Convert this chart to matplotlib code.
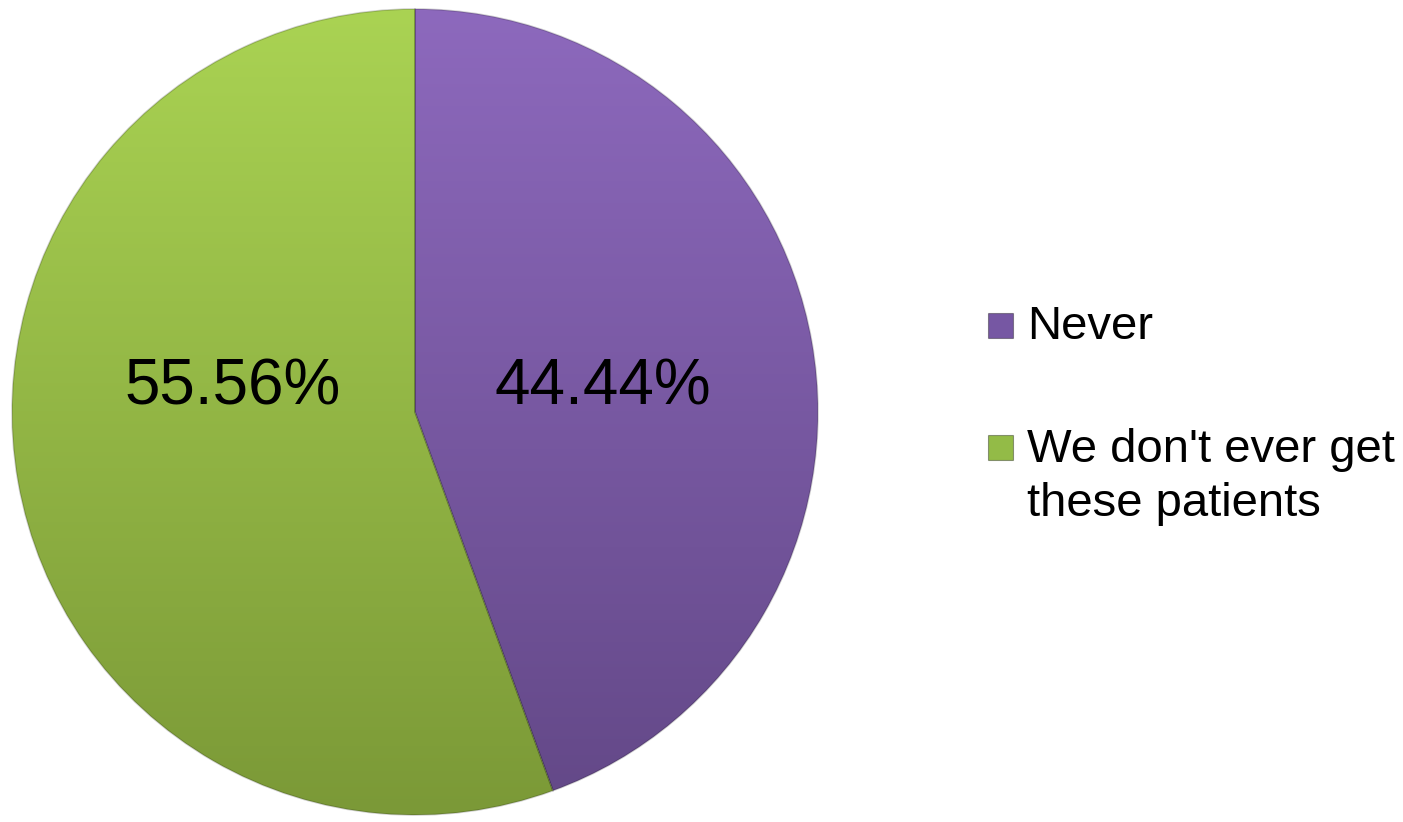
import numpy as np
import matplotlib
matplotlib.use("Agg")
import matplotlib.pyplot as plt
from matplotlib.colors import LinearSegmentedColormap
from matplotlib.patches import Rectangle

# Data
labels = ["Never", "We don't ever get\nthese patients"]
values = [44.44, 55.56]
pct_labels = ["44.44%", "55.56%"]

# colours (top -> bottom of the gradient)
top_colors = ["#8D69BD", "#AAD353"]
bottom_colors = ["#634887", "#7B9937"]
key_colors = ["#7657A3", "#93BB47"]

plt.rcParams['font.family'] = ['Liberation Sans', 'DejaVu Sans']

fig = plt.figure(figsize=(14.03, 8.22), dpi=100)
W, H = 1403, 822

# pie centre (415, 412) px, radius 403 px
cx, cy, r = 415, 412, 403
ax = fig.add_axes([(cx - r) / W, (H - cy - r) / H, 2 * r / W, 2 * r / H])

wedges, _ = ax.pie(values, startangle=90, counterclock=False, radius=1,
                   wedgeprops=dict(facecolor='none', edgecolor='none'))

grad = np.linspace(1, 0, 256).reshape(-1, 1)
for w, c_top, c_bot in zip(wedges, top_colors, bottom_colors):
    cmap = LinearSegmentedColormap.from_list('g', [c_bot, c_top])
    im = ax.imshow(grad, cmap=cmap, extent=(-1, 1, -1, 1), origin='upper',
                   aspect='auto', zorder=1, vmin=0, vmax=1)
    im.set_clip_path(w)
    w.set_edgecolor((0, 0, 0, 0.18))
    w.set_linewidth(1.2)
    w.set_zorder(2)

# percentage labels
pct_pos = [(0.467, 0.06), (-0.452, 0.06)]
for txt, (x, y) in zip(pct_labels, pct_pos):
    ax.text(x, y, txt, ha='center', va='center', fontsize=46, color='black', zorder=3)

ax.set_xlim(-1, 1)
ax.set_ylim(-1, 1)
ax.axis('off')

# legend (drawn by hand)
key_boxes = [(988, 313), (988, 435)]
text_tops = [307, 430]
for lab, col, (kx, ky), ty in zip(labels, key_colors, key_boxes, text_tops):
    fig.patches.append(Rectangle((kx / W, 1 - (ky + 25) / H), 25 / W, 25 / H,
                                 transform=fig.transFigure, facecolor=col,
                                 edgecolor=(0, 0, 0, 0.35), linewidth=0.8))
    fig.text(1027 / W, 1 - (ty - 2) / H, lab, ha='left', va='top',
             fontsize=34, linespacing=1.3)

fig.savefig('out.png', dpi=100)
